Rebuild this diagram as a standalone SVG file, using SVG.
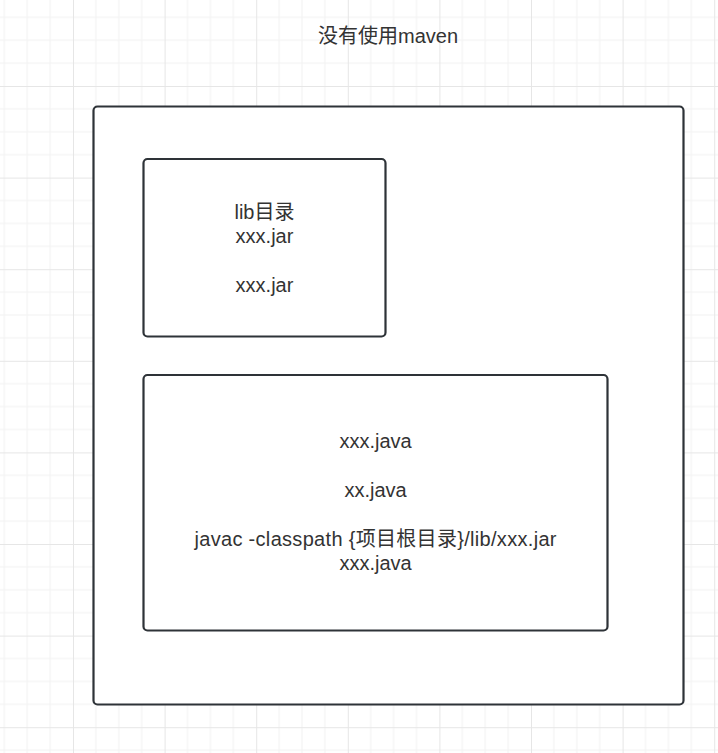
<svg xmlns="http://www.w3.org/2000/svg" width="718" height="753" viewBox="0 0 718 753">
  <defs>
    <pattern id="grid" patternUnits="userSpaceOnUse" x="73" y="86" width="91.6" height="91.6">
      <path d="M22.9 0V91.6M45.8 0V91.6M68.7 0V91.6M0 22.9H91.6M0 45.8H91.6M0 68.7H91.6" stroke="#f2f2f2" stroke-width="1" fill="none"/>
      <path d="M0.5 0V91.6M0 0.5H91.6" stroke="#e6e6e6" stroke-width="1" fill="none"/>
    </pattern>
    <style>
      .box { fill: #ffffff; stroke: #2e3338; stroke-width: 2.2; }
      .t { font-family: "Liberation Sans", "Noto Sans CJK SC", sans-serif; font-size: 20px; fill: #333333; text-anchor: middle; }
    </style>
  </defs>
  <rect width="718" height="753" fill="#ffffff"/>
  <rect width="718" height="753" fill="url(#grid)"/>
  <g id="title">
    <text class="t" x="388" y="43">没有使用maven</text>
  </g>
  <g id="outer">
    <rect class="box" x="93.5" y="106.5" width="590" height="598" rx="4" ry="4"/>
  </g>
  <g id="lib">
    <rect class="box" x="143.5" y="159" width="242" height="177.5" rx="4" ry="4"/>
    <text class="t" x="264.5" y="219">lib目录</text>
    <text class="t" x="264.5" y="243.4">xxx.jar</text>
    <text class="t" x="264.5" y="292.2">xxx.jar</text>
  </g>
  <g id="src">
    <rect class="box" x="143.5" y="375" width="464" height="255.5" rx="4" ry="4"/>
    <text class="t" x="375.5" y="448.3">xxx.java</text>
    <text class="t" x="375.5" y="497.1">xx.java</text>
    <text class="t" x="375.5" y="545.9" textLength="362" lengthAdjust="spacing">javac -classpath {项目根目录}/lib/xxx.jar</text>
    <text class="t" x="375.5" y="570.3">xxx.java</text>
  </g>
  <g id="connectors"/>
</svg>
